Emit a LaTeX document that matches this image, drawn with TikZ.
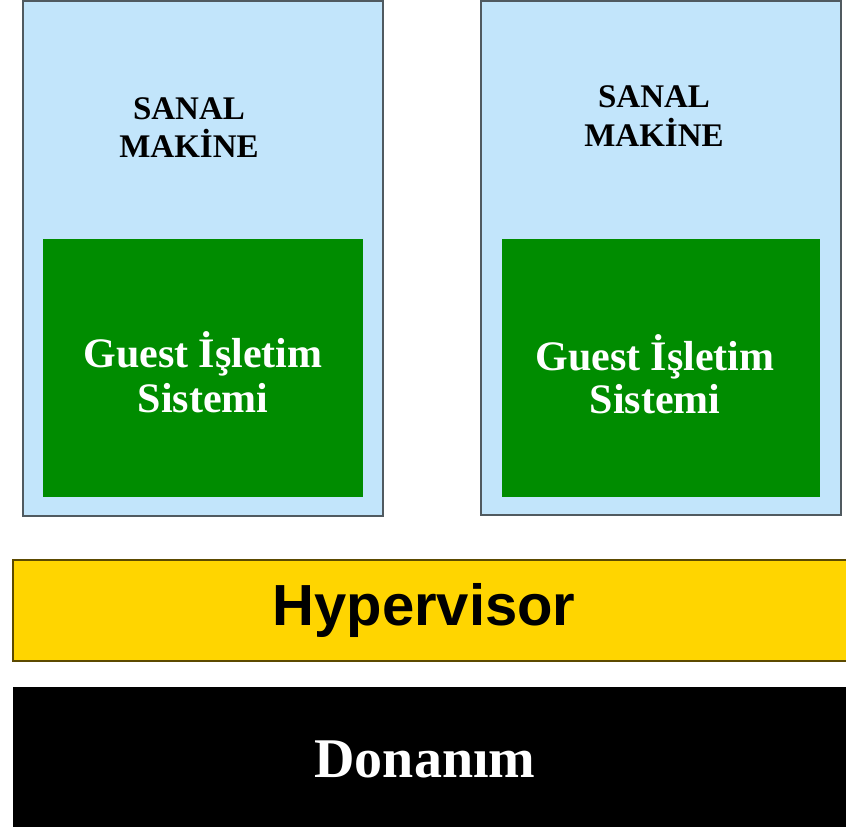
\documentclass[tikz,border=0pt]{standalone}
\usepackage{fontspec}
\setmainfont{Liberation Serif}
\newfontfamily\arialfont{Liberation Sans}
\definecolor{vmblue}{HTML}{C2E5FB}
\definecolor{osgreen}{HTML}{008C00}
\definecolor{hypyellow}{HTML}{FFD500}
\definecolor{hypborder}{HTML}{5C4A00}
\definecolor{vmborder}{HTML}{505A60}
\tikzset{
  vmbox/.style={draw=vmborder, fill=vmblue, line width=1.6pt, inner sep=0pt, outer sep=0pt, anchor=north west},
  osbox/.style={fill=osgreen, inner sep=0pt, outer sep=0pt, anchor=north west},
  vmtext/.style={anchor=base, inner sep=0pt, font=\bfseries\fontsize{33}{38}\selectfont, text=black},
  ostext/.style={anchor=base, inner sep=0pt, font=\bfseries\fontsize{42}{45}\selectfont, text=white},
  hypbox/.style={draw=hypborder, fill=hypyellow, line width=1.6pt, inner sep=0pt, outer sep=0pt, anchor=north west},
  hwbox/.style={fill=black, inner sep=0pt, outer sep=0pt, anchor=north west},
}
\begin{document}
\begin{tikzpicture}[x=1pt, y=-1pt]
\useasboundingbox[fill=white] (0,0) rectangle (846,827);
% virtual machines
\node[vmbox, minimum width=360pt, minimum height=515pt] (vm1) at (23,1) {};
\node[vmbox, minimum width=360pt, minimum height=514pt] (vm2) at (481,1) {};
\node[osbox, minimum width=320pt, minimum height=258pt] (os1) at (43,239) {};
\node[osbox, minimum width=318pt, minimum height=258pt] (os2) at (502,239) {};
% labels in VMs
\node[vmtext] (vm1a) at (189,119) {SANAL};
\node[vmtext] (vm1b) at (189,157) {MAKİNE};
\node[vmtext] (vm2a) at (654,107) {SANAL};
\node[vmtext] (vm2b) at (654,146) {MAKİNE};
\node[ostext] (os1a) at (203,367) {Guest İşletim};
\node[ostext] (os1b) at (203,412) {Sistemi};
\node[ostext] (os2a) at (655,370) {Guest İşletim};
\node[ostext] (os2b) at (655,413) {Sistemi};
% hypervisor
\node[hypbox, minimum width=840pt, minimum height=101pt] (hyp) at (13,560) {};
\node[anchor=base, inner sep=0pt, font=\arialfont\bfseries\fontsize{58}{60}\selectfont] (hyplabel) at (424,625) {Hypervisor};
% hardware
\node[hwbox, minimum width=840pt, minimum height=145pt] (hw) at (13,687) {};
\node[anchor=base, inner sep=0pt, text=white, font=\bfseries\fontsize{56}{60}\selectfont] (hwlabel) at (425,777) {Donanım};
\end{tikzpicture}
\end{document}
